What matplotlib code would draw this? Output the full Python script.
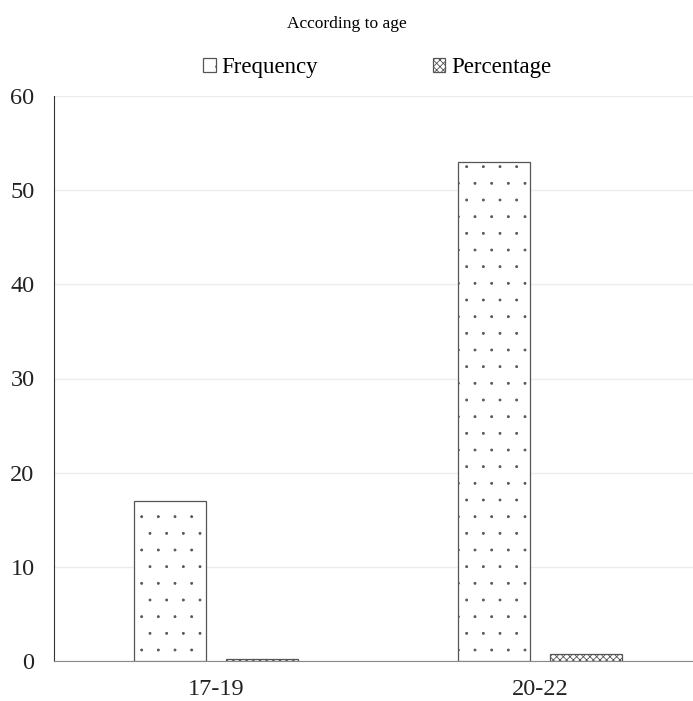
import numpy as np
import matplotlib
matplotlib.use('Agg')
import matplotlib.pyplot as plt
from matplotlib import hatch as mhatch

plt.rcParams['font.family'] = ['Liberation Serif', 'DejaVu Serif']
plt.rcParams['hatch.linewidth'] = 0.6
plt.rcParams['hatch.color'] = 'black'

# smaller dots for the '.' hatch
mhatch.SmallFilledCircles.size = 0.06

categories = ['17-19', '20-22']
frequency = [17, 53]
percentage = [0.24, 0.76]

fig = plt.figure(figsize=(6.93, 7.01), dpi=100)
ax = fig.add_axes([54 / 693, 40 / 701, 648 / 693, 565 / 701])

x = np.arange(len(categories))
w = 0.222
ax.bar(x - 0.141, frequency, w, color='white', edgecolor='#555555',
       linewidth=0.9, hatch='.', label='Frequency', zorder=3)
ax.bar(x + 0.142, percentage, w, color='white', edgecolor='#555555',
       linewidth=0.9, hatch='xxxxx', label='Percentage', zorder=3)

ax.set_xlim(-0.5, 1.5)
ax.set_ylim(0, 60)
ax.set_yticks(range(0, 61, 10))
ax.set_xticks(x)
ax.set_xticklabels(categories)
ax.tick_params(length=0, labelsize=17.5, pad=13, labelcolor='#222222')
ax.tick_params(axis='y', pad=14)
ax.grid(axis='y', color='#ececec', linewidth=1, zorder=0)
for s in ['top', 'right']:
    ax.spines[s].set_visible(False)
ax.spines['left'].set_color('#333333')
ax.spines['bottom'].set_color('#888888')

fig.text(347 / 693, 1 - 24 / 701, 'According to age', ha='center', va='center', fontsize=12.5)
ax.legend(loc='center', bbox_to_anchor=(377 / 693, 1 - 68 / 701), bbox_transform=fig.transFigure,
          ncol=2, frameon=False, fontsize=16.5, handlelength=0.55, handleheight=0.55,
          handletextpad=0.25, columnspacing=5.0)

fig.savefig('out.png', dpi=100)
